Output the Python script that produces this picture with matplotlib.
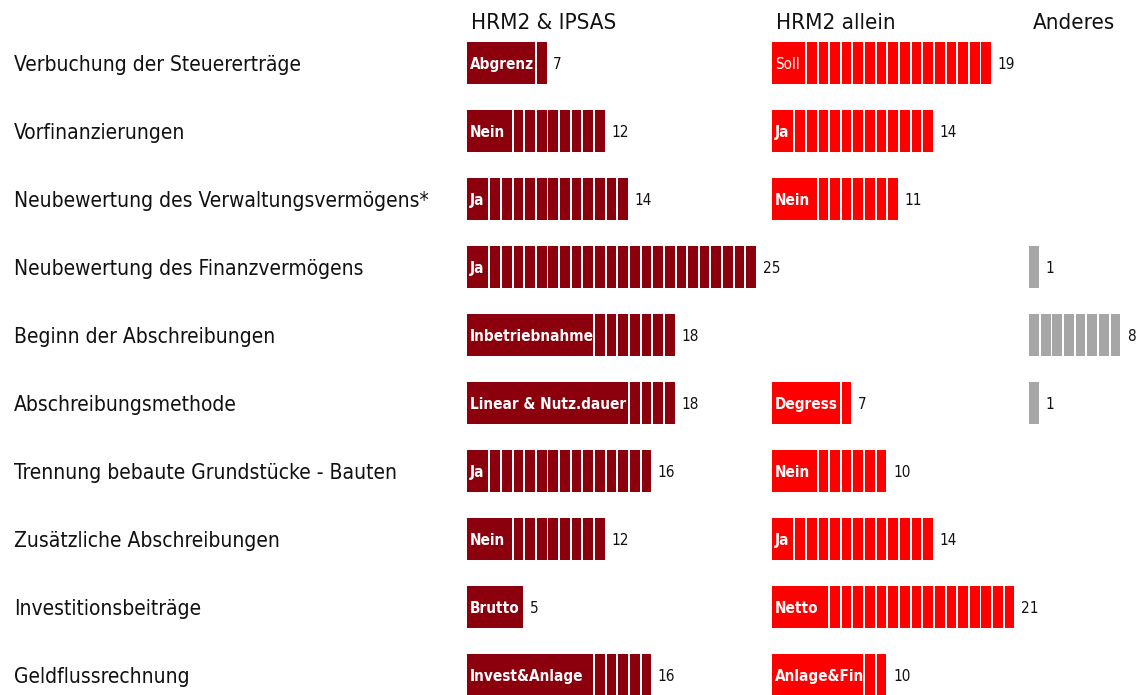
import math
import matplotlib
matplotlib.use('Agg')
import matplotlib.pyplot as plt
import matplotlib.transforms as mtransforms
import numpy as np

plt.rcParams['font.family'] = ['DejaVu Sans']
plt.rcParams['font.stretch'] = 'condensed'

questions = [
    'Verbuchung der Steuererträge',
    'Vorfinanzierungen',
    'Neubewertung des Verwaltungsvermögens*',
    'Neubewertung des Finanzvermögens',
    'Beginn der Abschreibungen',
    'Abschreibungsmethode',
    'Trennung bebaute Grundstücke - Bauten',
    'Zusätzliche Abschreibungen',
    'Investitionsbeiträge',
    'Geldflussrechnung',
]
groups = ['HRM2 & IPSAS', 'HRM2 allein', 'Anderes']

ipsas_counts = [7, 12, 14, 25, 18, 18, 16, 12, 5, 16]
ipsas_answers = ['Abgrenz', 'Nein', 'Ja', 'Ja', 'Inbetriebnahme', 'Linear & Nutz.dauer',
                 'Ja', 'Nein', 'Brutto', 'Invest&Anlage']
hrm2_counts = [19, 14, 11, 0, 0, 7, 10, 14, 21, 10]
hrm2_answers = ['Soll', 'Ja', 'Nein', '', '', 'Degress', 'Nein', 'Ja', 'Netto', 'Anlage&Fin']
other_counts = [0, 0, 0, 1, 8, 1, 0, 0, 0, 0]
other_answers = [''] * 10

colors = ['#8c000d', '#ff0000', '#a6a6a6']
group_offsets = [0, 26.2, 48.3]
unit_px = 11.64
gap = 0.17
bar_h = 0.62

fig = plt.figure(figsize=(11.37, 6.95), dpi=100)
left_px = 467
ax = fig.add_axes([left_px / 1137, 0, 1 - left_px / 1137, 1])
ax.set_xlim(0, (1137 - left_px) / unit_px)
ax.set_ylim((695 - 63) / 68, -63 / 68)
ax.axis('off')

fig.canvas.draw()
renderer = fig.canvas.get_renderer()

series = [(ipsas_counts, ipsas_answers), (hrm2_counts, hrm2_answers), (other_counts, other_answers)]
for g, (counts, answers) in enumerate(series):
    off = group_offsets[g]
    ax.text(off + 0.35, -0.5, groups[g], fontsize=16, va='baseline', ha='left', color='#111111')
    for r, (n, ans) in enumerate(zip(counts, answers)):
        if n == 0:
            continue
        k = 0
        if ans:
            # answer label sits on a merged block wide enough for the text
            weight = 'normal' if ans == 'Soll' else 'bold'
            t = ax.text(off + 0.25, r + 0.085, ans, fontsize=11, fontweight=weight, color='white',
                        va='baseline', ha='left', zorder=3)
            w = t.get_window_extent(renderer).width
            k = min(n, math.ceil((w + 3) / unit_px))
            ax.barh(r, k - gap, left=off, height=bar_h, color=colors[g], zorder=2)
        lefts = off + np.arange(k, n)
        ax.barh([r] * len(lefts), 1 - gap, left=lefts, height=bar_h, color=colors[g], zorder=2)
        ax.text(off + n + 0.4, r + 0.082, str(n), fontsize=11, va='baseline', ha='left',
                color='#111111')

trans = mtransforms.blended_transform_factory(fig.transFigure, ax.transData)
for r, q in enumerate(questions):
    ax.text(14 / 1137, r + 0.12, q, transform=trans, fontsize=15, va='baseline', ha='left',
            color='#111111')

fig.savefig('out.png', dpi=100)
